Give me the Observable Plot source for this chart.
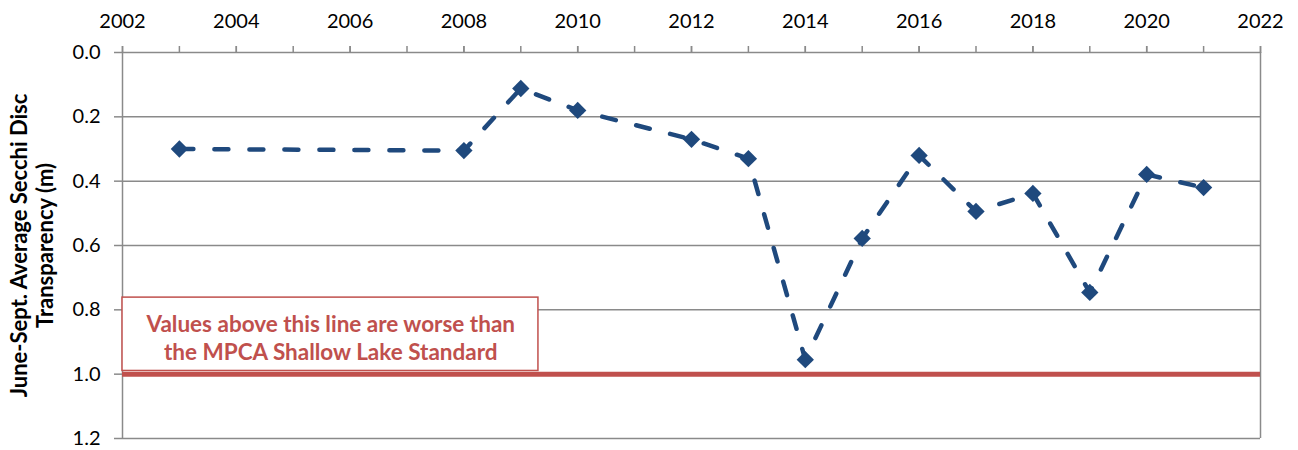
<!DOCTYPE html>
<html><head><meta charset="utf-8">
<script src="https://cdn.jsdelivr.net/npm/d3@7"></script>
<script src="https://cdn.jsdelivr.net/npm/@observablehq/plot@0.6"></script>
<style>body{margin:0;background:#fff;font-family:Lato,"Open Sans",sans-serif}</style>
</head><body><div id="chart"></div>
<script>
const years = [2003, 2008, 2009, 2010, 2012, 2013, 2014, 2015, 2016, 2017, 2018, 2019, 2020, 2021];
const secchi = [0.30, 0.305, 0.112, 0.18, 0.27, 0.33, 0.955, 0.578, 0.32, 0.494, 0.438, 0.746, 0.379, 0.42];
const xTickLabels = [2002, 2004, 2006, 2008, 2010, 2012, 2014, 2016, 2018, 2020, 2022];
const xMinorTicks = [2002,2003,2004,2005,2006,2007,2008,2009,2010,2011,2012,2013,2014,2015,2016,2017,2018,2019,2020,2021,2022];
const yTicks = [0, 0.2, 0.4, 0.6, 0.8, 1.0, 1.2];
const standard = [1.0];
const noteLines = ["Values above this line are worse than", "the MPCA Shallow Lake Standard"];
const yTitle = "June-Sept. Average Secchi Disc\nTransparency (m)";

const data = years.map((y, i) => ({year: y, value: secchi[i]}));
const gray = "#8a8a8a", blue = "#1F497D", red = "#C0504D";

const chart = Plot.plot({
  width: 1298, height: 450,
  marginLeft: 122, marginRight: 38, marginTop: 52, marginBottom: 12,
  style: {fontFamily: "Lato, 'Open Sans', sans-serif", background: "#fff"},
  x: {domain: [2002, 2022]},
  y: {domain: [0, 1.2], reverse: true},
  marks: [
    Plot.ruleY(yTicks, {stroke: gray, strokeWidth: 1.5}),
    Plot.ruleX([2002, 2022], {stroke: gray, strokeWidth: 1.5}),
    Plot.axisX({anchor: "top", ticks: xMinorTicks, tickSize: 7, tickFormat: () => "", stroke: gray, strokeWidth: 1.5, label: null}),
    Plot.axisX({anchor: "top", ticks: xTickLabels, tickSize: 7, tickPadding: 18, tickFormat: "d", fontSize: 20, fill: "#000", stroke: gray, strokeWidth: 1.5, label: null}),
    Plot.axisY({ticks: yTicks, tickSize: 8, tickPadding: 14, tickFormat: d3.format(".1f"), fontSize: 20, fill: "#000", stroke: gray, strokeWidth: 1.5, label: null}),
    Plot.text([yTitle], {frameAnchor: "left", rotate: -90, dx: -91, dy: 0, fontSize: 22, fontWeight: "bold", fill: "#000", lineHeight: 1.18, textAnchor: "middle", lineAnchor: "middle"}),
    Plot.ruleY(standard, {stroke: red, strokeWidth: 5}),
    Plot.rect([0], {x1: 2002, x2: 2009.31, y1: 0.762, y2: 0.99, fill: "#fff", stroke: red, strokeWidth: 1.5}),
    Plot.text([noteLines.join("\n")], {x: 2005.66, y: 0.885, fontSize: 22.5, fontWeight: "bold", fill: red, lineHeight: 1.24, lineAnchor: "middle"}),
    Plot.line(data, {x: "year", y: "value", stroke: blue, strokeWidth: 4.5, strokeDasharray: "14,21", strokeLinecap: "round"}),
    Plot.dot(data, {x: "year", y: "value", symbol: "diamond2", r: 7.8, fill: blue, stroke: "none"})
  ]
});
document.getElementById("chart").appendChild(chart);
</script></body></html>
